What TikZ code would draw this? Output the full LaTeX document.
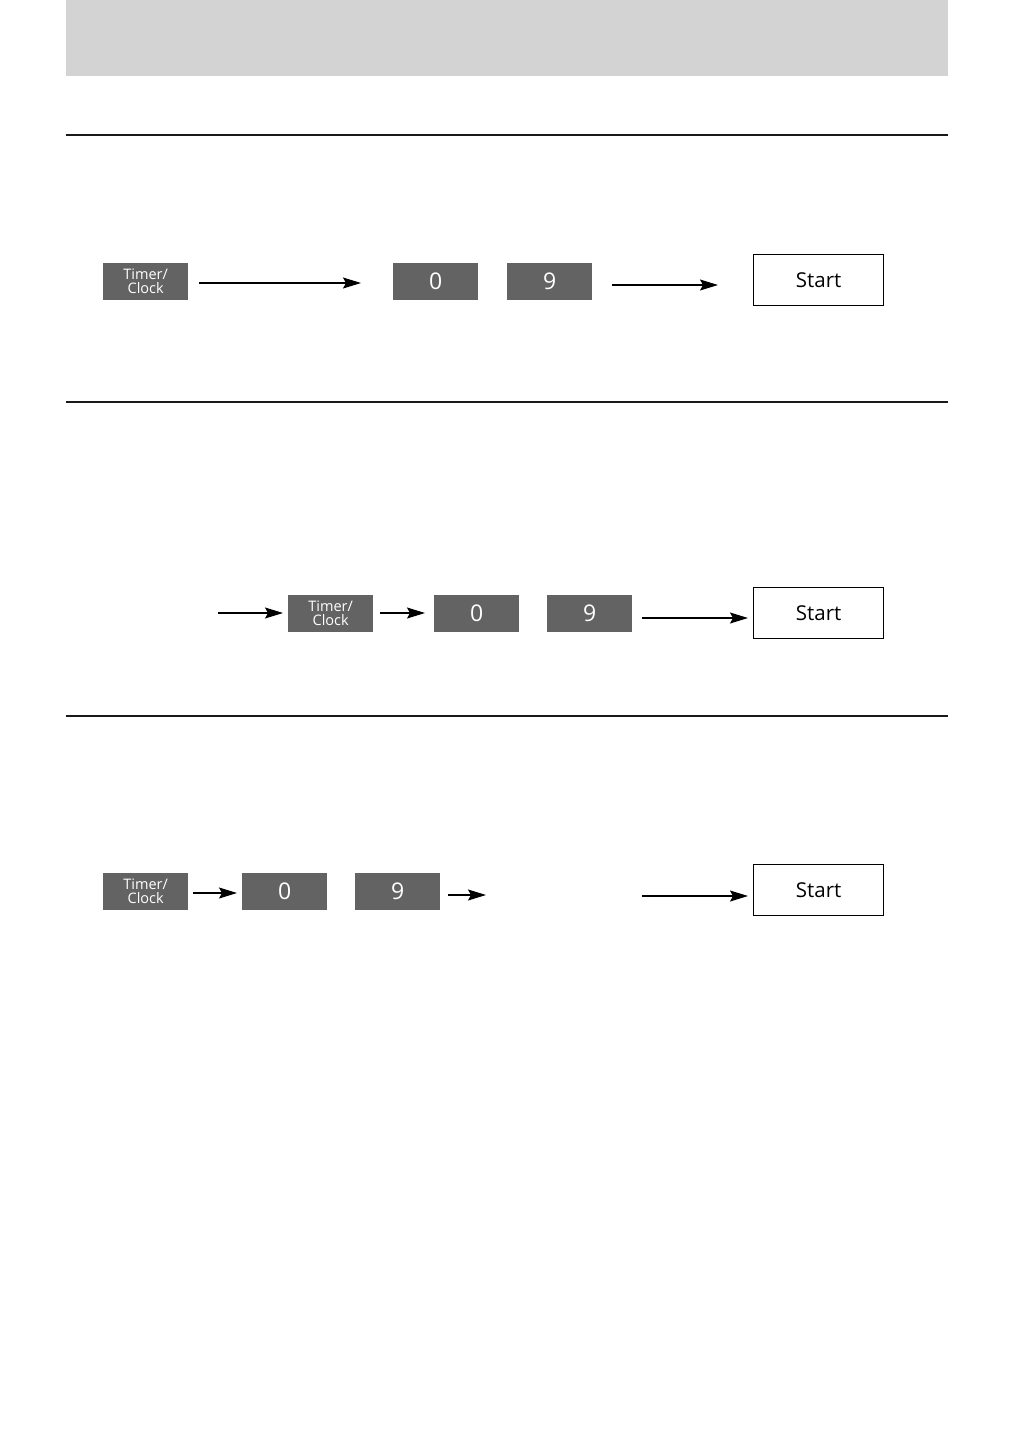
\documentclass[tikz,border=0pt]{standalone}
\usepackage{fontspec}
\setmainfont{Open Sans}
\usetikzlibrary{arrows.meta}
\definecolor{hdr}{HTML}{D3D3D3}
\definecolor{keyc}{HTML}{636363}
\tikzset{
  keybox/.style={fill=keyc, draw=none, inner sep=0pt, minimum width=85pt, minimum height=37pt, text=white, anchor=north west},
  tckey/.style={keybox, font=\fontsize{14.5}{14}\selectfont, align=center},
  digkey/.style={keybox, font=\fontsize{23}{24}\selectfont},
  startbox/.style={draw=black, line width=1.4pt, fill=white, inner sep=0pt, minimum width=130pt, minimum height=51pt, anchor=north west, font=\fontsize{20.5}{22}\selectfont},
  flow/.style={line width=1.2pt, -{Stealth[length=18pt,width=11pt,inset=3pt]}},
  rulel/.style={line width=2pt, draw={black!90}}
}
\begin{document}
\begin{tikzpicture}[x=1pt,y=-1pt]
\useasboundingbox (0,0) rectangle (1014,1448);
\fill[hdr] (66,0) rectangle (948,76);
\draw[rulel] (66,135) -- (948,135);
\draw[rulel] (66,402) -- (948,402);
\draw[rulel] (66,716) -- (948,716);

% Row 1
\node[tckey] (t1) at (103,263) {Timer/\\Clock};
\node[digkey] (z1) at (393,263) {0};
\node[digkey] (n1) at (507,263) {9};
\node[startbox] (s1) at (753,254) {Start};
\coordinate (a1s) at (199,283);
\coordinate (a1e) at (361,283);
\coordinate (a2s) at (612,285);
\coordinate (a2e) at (718,285);
\draw[flow] (a1s) -- (a1e);
\draw[flow] (a2s) -- (a2e);

% Row 2
\node[tckey] (t2) at (288,595) {Timer/\\Clock};
\node[digkey] (z2) at (434,595) {0};
\node[digkey] (n2) at (547,595) {9};
\node[startbox] (s2) at (753,587) {Start};
\coordinate (b1s) at (218,613);
\coordinate (b2s) at (380,613);
\coordinate (b3s) at (642,618);
\draw[flow, shorten >=5pt] (b1s) -- (b1s -| t2.west) ;
\draw[flow, shorten >=9pt] (b2s) -- (b2s -| z2.west);
\draw[flow, shorten >=5pt] (b3s) -- (b3s -| s2.west);

% Row 3
\node[tckey] (t3) at (103,873) {Timer/\\Clock};
\node[digkey] (z3) at (242,873) {0};
\node[digkey] (n3) at (355,873) {9};
\node[startbox] (s3) at (753,864) {Start};
\coordinate (c1s) at (193,893);
\coordinate (c2s) at (448,895);
\coordinate (c2e) at (486,895);
\coordinate (c3s) at (642,896);
\draw[flow, shorten >=5pt] (c1s) -- (c1s -| z3.west);
\draw[flow] (c2s) -- (c2e);
\draw[flow, shorten >=5pt] (c3s) -- (c3s -| s3.west);
\end{tikzpicture}
\end{document}
